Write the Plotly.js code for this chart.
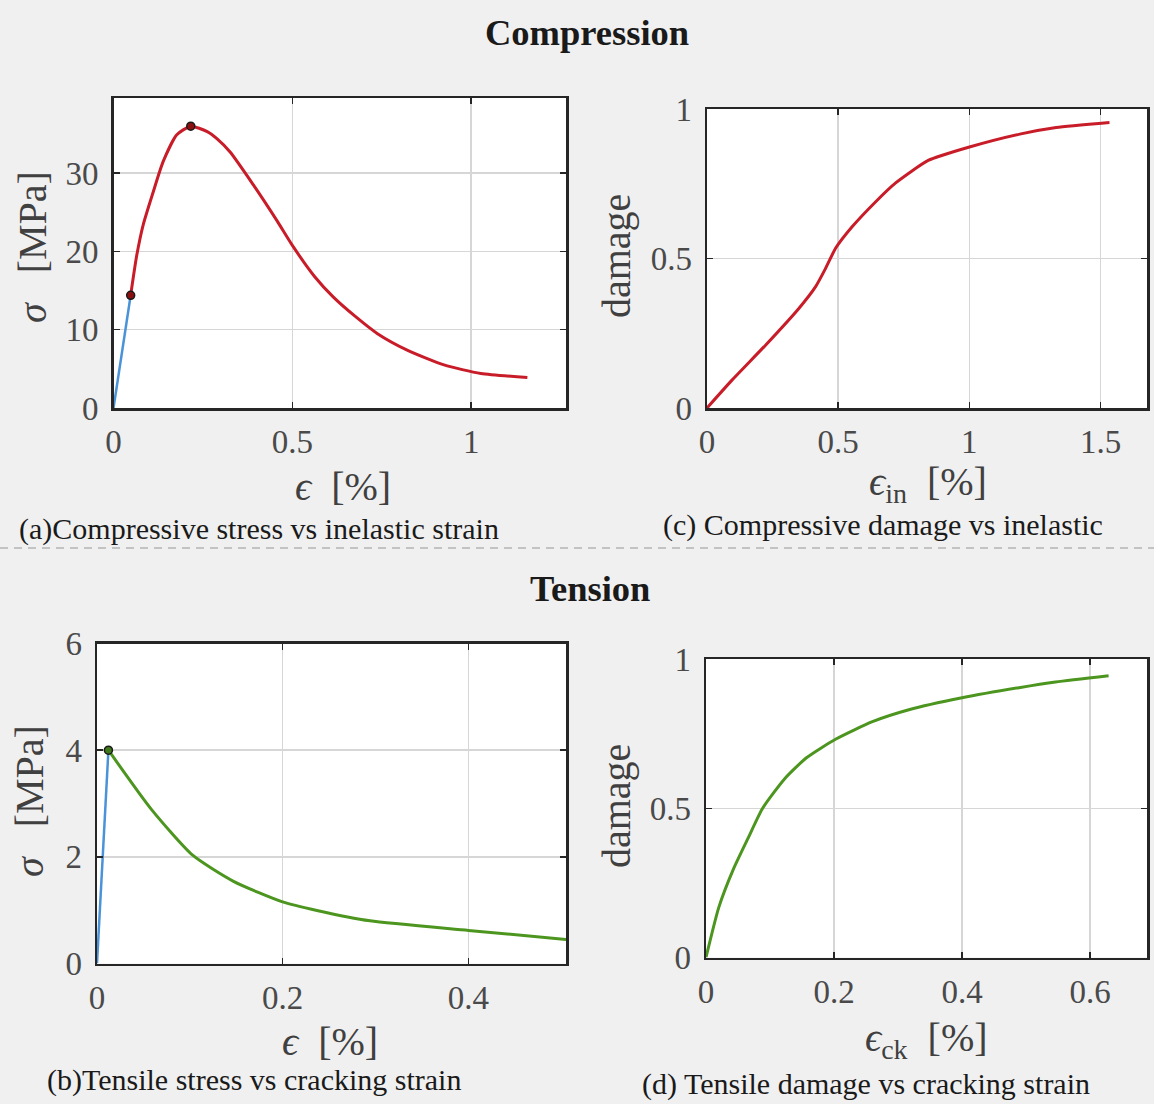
<!DOCTYPE html>
<html>
<head>
<meta charset="utf-8">
<script src="https://cdn.plot.ly/plotly-3.0.1.min.js"></script>
<style>html,body{margin:0;padding:0;background:#f0f0f0;}#chart{width:1154px;height:1104px;}</style>
</head>
<body>
<div id="chart"></div>
<script>
// (a) Compressive stress vs inelastic strain
const compElasticStrain = [0, 0.048];
const compElasticStress = [0, 14.4];
const compStrain = [0.048, 0.065, 0.083, 0.111, 0.139, 0.177, 0.216, 0.262, 0.289, 0.326, 0.391, 0.456, 0.501, 0.562, 0.614, 0.676, 0.738, 0.821, 0.924, 1.027, 1.157];
const compStress = [14.4, 19.5, 23.4, 27.6, 31.5, 34.9, 36.0, 35.3, 34.4, 32.7, 28.5, 24.0, 20.7, 16.8, 14.2, 11.7, 9.5, 7.4, 5.5, 4.4, 3.9];
const compMarkStrain = [0.048, 0.216];
const compMarkStress = [14.4, 36.0];

// (c) Compressive damage vs inelastic strain
const compInStrain = [0, 0.096, 0.224, 0.350, 0.414, 0.452, 0.490, 0.553, 0.643, 0.718, 0.843, 0.997, 1.192, 1.331, 1.534];
const compDamage = [0, 0.094, 0.211, 0.333, 0.406, 0.467, 0.534, 0.606, 0.690, 0.752, 0.828, 0.872, 0.916, 0.938, 0.955];

// (b) Tensile stress vs cracking strain
const tensElasticStrain = [0, 0.0123];
const tensElasticStress = [0, 4.0];
const tensStrain = [0.0123, 0.059, 0.103, 0.147, 0.199, 0.238, 0.294, 0.40, 0.505];
const tensStress = [4.0, 2.88, 2.03, 1.54, 1.16, 0.99, 0.80, 0.62, 0.45];
const tensMarkStrain = [0.0123];
const tensMarkStress = [4.0];

// (d) Tensile damage vs cracking strain
const tensCkStrain = [0, 0.020, 0.043, 0.066, 0.0885, 0.123, 0.157, 0.203, 0.260, 0.317, 0.40, 0.489, 0.546, 0.629];
const tensDamage = [0, 0.168, 0.297, 0.401, 0.500, 0.599, 0.669, 0.732, 0.790, 0.830, 0.870, 0.904, 0.923, 0.944];

// tick values
const ticksAx = [0, 0.5, 1];
const ticksAy = [0, 10, 20, 30];
const ticksCx = [0, 0.5, 1, 1.5];
const ticksCy = [0, 0.5, 1];
const ticksBx = [0, 0.2, 0.4];
const ticksBy = [0, 2, 4, 6];
const ticksDx = [0, 0.2, 0.4, 0.6];
const ticksDy = [0, 0.5, 1];

const W = 1154, H = 1104;
const px = v => v / W;
const py = v => 1 - v / H;

const RED = '#c81c28', GREEN = '#4c9620', BLUE = '#4a93d8';
const serif = 'Liberation Serif, Times New Roman, serif';

const traces = [
  {x: compElasticStrain, y: compElasticStress, xaxis: 'x', yaxis: 'y', mode: 'lines', line: {color: BLUE, width: 2.5}},
  {x: compStrain, y: compStress, xaxis: 'x', yaxis: 'y', mode: 'lines', line: {color: RED, width: 3, shape: 'spline', smoothing: 0.6}},
  {x: compMarkStrain, y: compMarkStress, xaxis: 'x', yaxis: 'y', mode: 'markers', marker: {color: '#8a1010', size: 8, line: {color: '#1a1a1a', width: 1.5}}},
  {x: compInStrain, y: compDamage, xaxis: 'x2', yaxis: 'y2', mode: 'lines', line: {color: RED, width: 3, shape: 'spline', smoothing: 0.5}},
  {x: tensElasticStrain, y: tensElasticStress, xaxis: 'x3', yaxis: 'y3', mode: 'lines', line: {color: BLUE, width: 2.5}},
  {x: tensStrain, y: tensStress, xaxis: 'x3', yaxis: 'y3', mode: 'lines', line: {color: GREEN, width: 3, shape: 'spline', smoothing: 0.6}},
  {x: tensMarkStrain, y: tensMarkStress, xaxis: 'x3', yaxis: 'y3', mode: 'markers', marker: {color: '#3f7a1a', size: 8, line: {color: '#1a1a1a', width: 1.5}}},
  {x: tensCkStrain, y: tensDamage, xaxis: 'x4', yaxis: 'y4', mode: 'lines', line: {color: GREEN, width: 3, shape: 'spline', smoothing: 0.6}}
];

function ax(domain, range, tickvals, anchor, isX) {
  return {
    domain: domain, range: range, anchor: anchor,
    tickmode: 'array', tickvals: tickvals,
    showgrid: true, gridcolor: '#d6d6d6', gridwidth: 1.5,
    zeroline: false,
    showline: true, linecolor: '#262626', linewidth: 2.5, mirror: 'ticks',
    ticks: 'inside', ticklen: 6, tickwidth: 1.5, tickcolor: '#262626',
    tickfont: {family: serif, size: 33, color: '#4a4a4a'},
    ticklabelstandoff: isX ? 3 : 6,
    fixedrange: true
  };
}

const layout = {
  width: W, height: H,
  margin: {l: 0, r: 0, t: 0, b: 0},
  paper_bgcolor: '#f0f0f0', plot_bgcolor: '#ffffff',
  showlegend: false,
  xaxis: ax([px(113.5), px(566)], [0, 1.265], ticksAx, 'y', true),
  yaxis: ax([py(408), py(98)], [0, 39.6], ticksAy, 'x', false),
  xaxis2: ax([px(707), px(1147)], [0, 1.677], ticksCx, 'y2', true),
  yaxis2: ax([py(408), py(109)], [0, 1], ticksCy, 'x2', false),
  xaxis3: ax([px(97), px(566)], [0, 0.505], ticksBx, 'y3', true),
  yaxis3: ax([py(963.5), py(643.5)], [0, 6], ticksBy, 'x3', false),
  xaxis4: ax([px(706), px(1147)], [0, 0.689], ticksDx, 'y4', true),
  yaxis4: ax([py(957.5), py(659)], [0, 1], ticksDy, 'x4', false),
  shapes: [
    {type: 'line', xref: 'paper', yref: 'paper', x0: 0, x1: 1, y0: py(548), y1: py(548),
     line: {color: '#b4b4b4', width: 1.5, dash: '8px,6px'}}
  ],
  annotations: []
};

function ann(text, x, y, size, opts) {
  const a = Object.assign({
    text: text, xref: 'paper', yref: 'paper', x: px(x), y: py(y),
    xanchor: 'center', yanchor: 'middle', showarrow: false,
    font: {family: serif, size: size, color: '#1a1a1a'}
  }, opts || {});
  layout.annotations.push(a);
}

// section titles
ann('<b>Compression</b>', 587, 32, 36.5);
ann('<b>Tension</b>', 590, 588, 36.5);

// axis titles
const axFont = {family: serif, size: 40, color: '#404040'};
ann('<i>σ</i>&nbsp;&nbsp;&nbsp;[MPa]', 33, 247, 40, {textangle: -90, font: axFont});
ann('<i>ϵ</i>&nbsp;&nbsp;[%]', 343, 486, 40, {font: axFont});
ann('damage', 616, 256, 40, {textangle: -90, font: axFont});
ann('<i>ϵ</i><sub>in</sub>&nbsp;&nbsp;[%]', 928, 484, 40, {font: axFont});
ann('<i>σ</i>&nbsp;&nbsp;&nbsp;[MPa]', 30, 801, 40, {textangle: -90, font: axFont});
ann('<i>ϵ</i>&nbsp;&nbsp;[%]', 330, 1041, 40, {font: axFont});
ann('damage', 616, 806, 40, {textangle: -90, font: axFont});
ann('<i>ϵ</i><sub>ck</sub>&nbsp;&nbsp;[%]', 926, 1040, 40, {font: axFont});

// captions
ann('(a)Compressive stress vs inelastic strain', 259, 529, 30);
ann('(c) Compressive damage vs inelastic', 883, 525, 30);
ann('(b)Tensile stress vs cracking strain', 254, 1080, 30);
ann('(d) Tensile damage vs cracking strain', 866, 1084, 30);

Plotly.newPlot('chart', traces, layout, {displayModeBar: false, staticPlot: true});
</script>
</body>
</html>
